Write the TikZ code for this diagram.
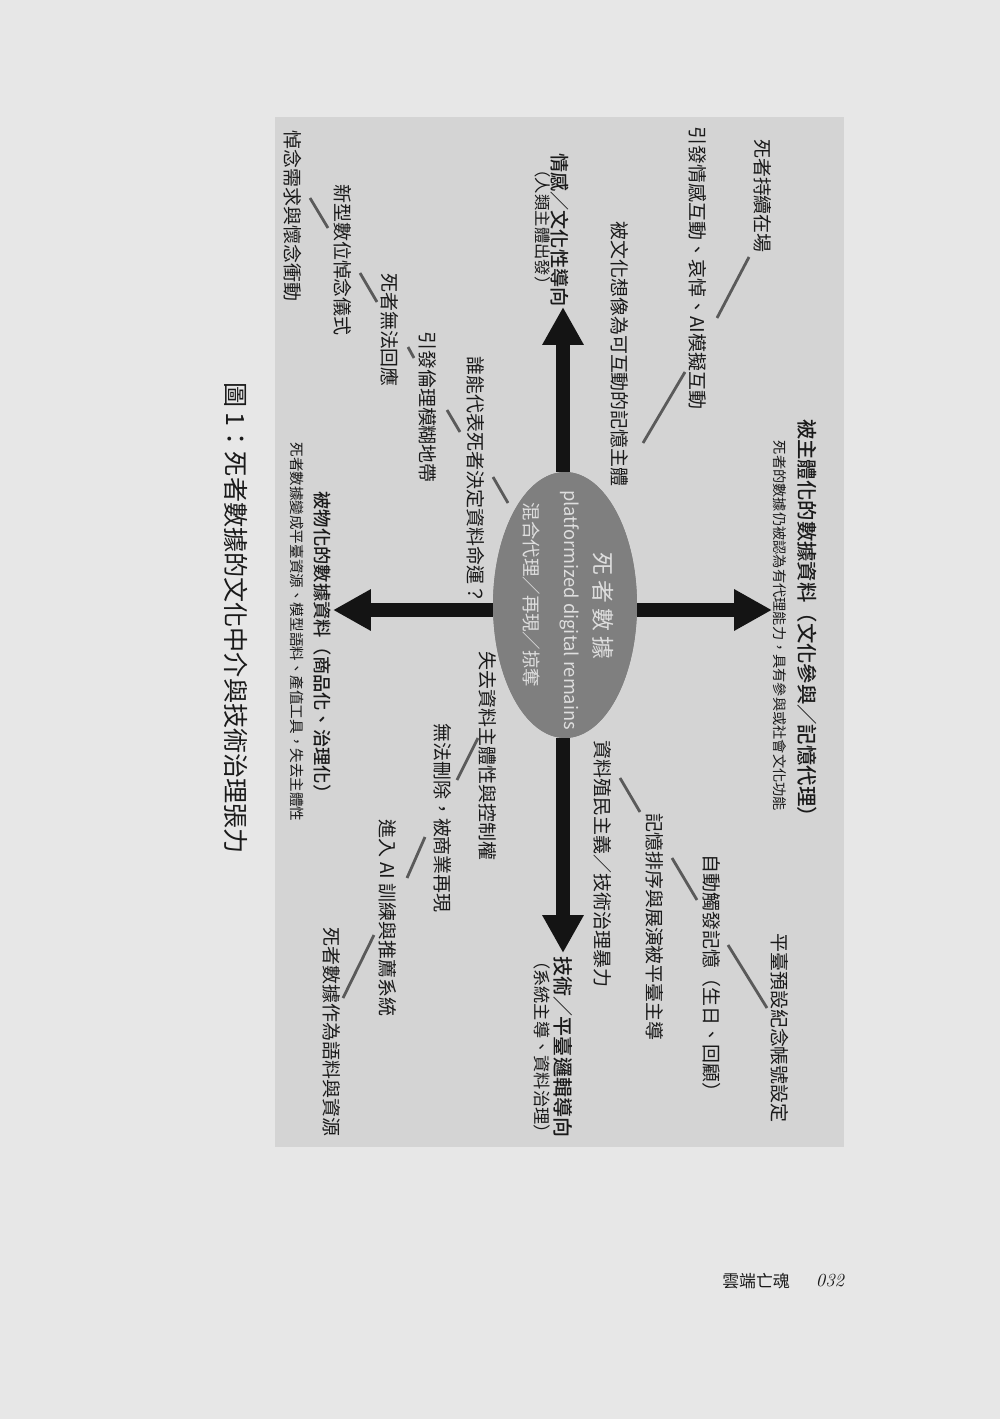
\documentclass[tikz,border=0pt]{standalone}
\usepackage{fontspec}
\newfontfamily\cjk{Noto Sans CJK TC}
\newfontfamily\cjkm{Noto Sans CJK TC Medium}
\usetikzlibrary{shapes.geometric,arrows.meta}
\definecolor{pagecol}{HTML}{E7E7E7}
\definecolor{boxcol}{HTML}{D4D4D4}
\definecolor{ellcol}{HTML}{7F7F7F}
\definecolor{elltxt}{HTML}{DEDEDE}
\definecolor{txtcol}{HTML}{1A1A1A}
\definecolor{linkcol}{HTML}{5A5A5A}
\begin{document}
\begin{tikzpicture}[x=0.02cm,y=-0.02cm,
  qtext/.style={rotate=-90,inner sep=0,text=txtcol,font=\cjk\fontsize{10.8pt}{13pt}\selectfont},
  axmain/.style={rotate=-90,inner sep=0,text=txtcol,font=\cjkm\fontsize{#1}{14pt}\selectfont},
  axsub/.style={rotate=-90,inner sep=0,text=txtcol,font=\cjk\fontsize{#1}{11pt}\selectfont},
  etext/.style={rotate=-90,inner sep=0,text=elltxt,font=\cjk\fontsize{#1}{14pt}\selectfont},
  link/.style={draw=linkcol,line width=1.6pt},
  bigarrow/.style={draw=black!92,line width=7.9pt,-{Triangle[length=0.76cm,width=0.78cm]}}]
\useasboundingbox (0,0) rectangle (1000,1419);
\fill[pagecol] (0,0) rectangle (1000,1419);
\fill[boxcol] (275,117) rectangle (844,1147);

% central ellipse
\node[ellipse,fill=ellcol,minimum width=2.88cm,minimum height=5.32cm,inner sep=0] (ell) at (565,605) {};
\coordinate (tipN) at (563,307);
\coordinate (tipS) at (563,953);
\coordinate (tipE) at (772,610);
\coordinate (tipW) at (333,610);
\draw[bigarrow] (ell.north -| tipN) -- (tipN);
\draw[bigarrow] (ell.south -| tipS) -- (tipS);
\draw[bigarrow] (ell.east |- tipE) -- (tipE);
\draw[bigarrow] (ell.west |- tipW) -- (tipW);
\node[ellipse,fill=ellcol,minimum width=2.88cm,minimum height=5.32cm,inner sep=0] (ellTop) at (ell) {};

\node[etext=13pt] (e1) at (603,606) {死\kern3pt 者\kern3pt 數\kern3pt 據};
\node[etext=10.4pt] (e2) at (570,610) {platformized digital remains};
\node[etext=10.5pt] (e3) at (532,595) {混合代理／再現／掠奪};

% axis labels
\node[axmain=10.9pt] (nT1) at (560,230) {情感／文化性導向};
\node[axsub=9.3pt] (nT2) at (543,227) {（人類主體出發）};
\node[axmain=11.4pt] (nB1) at (563,1047) {技術／平臺邏輯導向};
\node[axsub=9.8pt] (nB2) at (542,1047) {（系統主導、資料治理）};
\node[axmain=11.6pt] (nR1) at (807,623) {被主體化的數據資料（文化參與／記憶代理）};
\node[axsub=8.1pt] (nR2) at (780,626) {死者的數據仍被認為有代理能力，具有參與或社會文化功能};
\node[axmain=10.4pt] (nL1) at (322,647) {被物化的數據資料（商品化、治理化）};
\node[axsub=8.3pt] (nL2) at (297,632) {死者數據變成平臺資源、模型語料、產值工具，失去主體性};

% quadrant texts
\node[qtext] (q1) at (763,196) {死者持續在場};
\node[qtext] (q2) at (698,268) {引發情感互動、哀悼、AI模擬互動};
\node[qtext] (q3) at (620,354) {被文化想像為可互動的記憶主體};
\node[qtext] (q4) at (293,216) {悼念需求與懷念衝動};
\node[qtext] (q5) at (343,260) {新型數位悼念儀式};
\node[qtext] (q6) at (390,330) {死者無法回應};
\node[qtext] (q7) at (428,407) {引發倫理模糊地帶};
\node[qtext] (q8) at (476,480) {誰能代表死者決定資料命運？};
\node[qtext] (q9) at (488,756) {失去資料主體性與控制權};
\node[qtext] (q10) at (443,818) {無法刪除，被商業再現};
\node[qtext] (q11) at (388,918) {進入 AI 訓練與推薦系統};
\node[qtext] (q12) at (332,1032) {死者數據作為語料與資源};
\node[qtext] (q13) at (603,864) {資料殖民主義／技術治理暴力};
\node[qtext] (q14) at (655,927) {記憶排序與展演被平臺主導};
\node[qtext] (q15) at (712,978) {自動觸發記憶（生日、回顧）};
\node[qtext] (q16) at (780,1028) {平臺預設紀念帳號設定};

% connector ends
\coordinate (a1) at (749,257); \coordinate (b1) at (717,318);
\coordinate (a2) at (685,372); \coordinate (b2) at (643,443);
\coordinate (a3) at (310,198); \coordinate (b3) at (328,228);
\coordinate (a4) at (360,273); \coordinate (b4) at (377,302);
\coordinate (a5) at (408,347); \coordinate (b5) at (414,358);
\coordinate (a6) at (447,410); \coordinate (b6) at (460,432);
\coordinate (a7) at (493,477); \coordinate (b7) at (508,503);
\coordinate (a8) at (478,738); \coordinate (b8) at (457,780);
\coordinate (a9) at (425,837); \coordinate (b9) at (407,878);
\coordinate (a10) at (374,935); \coordinate (b10) at (343,998);
\coordinate (a11) at (620,778); \coordinate (b11) at (640,812);
\coordinate (a12) at (672,858); \coordinate (b12) at (697,900);
\coordinate (a13) at (728,945); \coordinate (b13) at (767,1008);
\foreach \i in {1,...,13} {\draw[link] (a\i) -- (b\i);}

% caption
\node[rotate=-90,inner sep=0,text=txtcol,font=\cjk\fontsize{14.3pt}{17pt}\selectfont] (cap) at (236,618) {圖 1：死者數據的文化中介與技術治理張力};

% footer
\node[inner sep=0,text=txtcol,font=\cjk\fontsize{9.6pt}{12pt}\selectfont] (foot1) at (756,1281) {雲端亡魂};
\node[inner sep=0,text=txtcol,font=\fontsize{10.5pt}{12pt}\selectfont\itshape] (foot2) at (830,1281) {032};
\end{tikzpicture}
\end{document}
